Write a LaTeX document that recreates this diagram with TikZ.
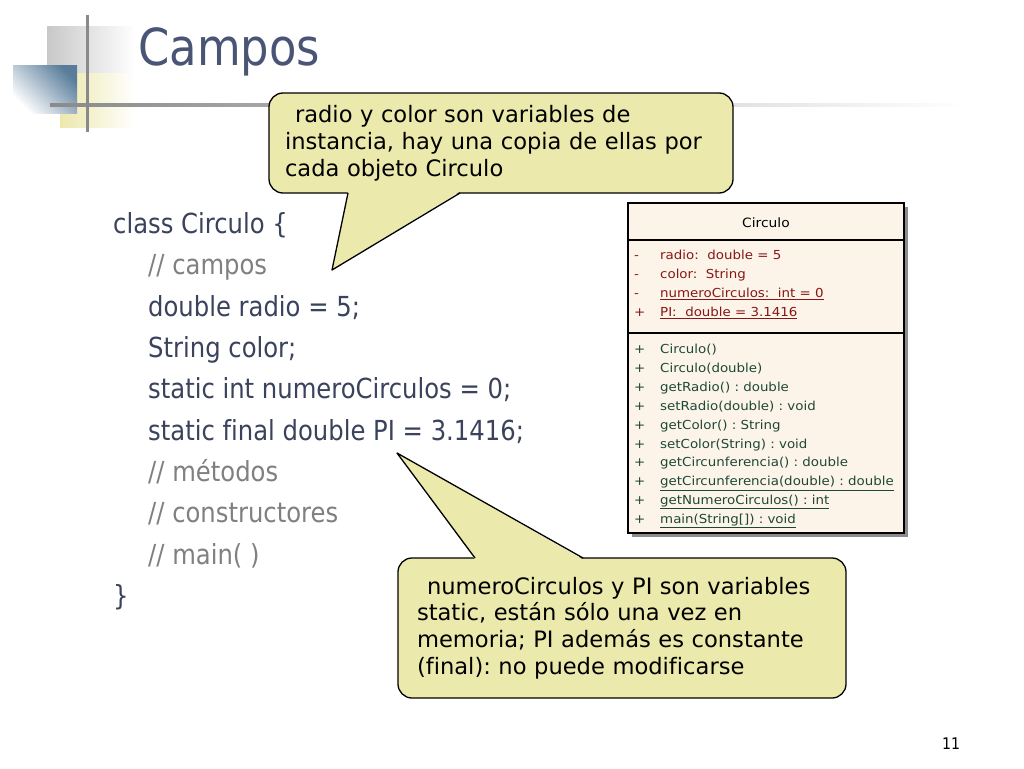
\documentclass[tikz,border=0pt]{standalone}
\usepackage{fontspec}
\setmainfont[Ligatures=CommonOff]{DejaVu Sans}
\newfontfamily\codefont[FakeStretch=0.88, Ligatures=CommonOff]{DejaVu Sans}
\newfontfamily\umlfont[FakeStretch=1.08]{DejaVu Sans}
\usepackage{tikz}
\usetikzlibrary{shadows}
\frenchspacing

\definecolor{titlecol}{RGB}{74,85,118}
\definecolor{codecol}{RGB}{58,66,92}
\definecolor{commentcol}{RGB}{128,128,128}
\definecolor{notefill}{RGB}{236,233,172}
\definecolor{umlfill}{RGB}{252,244,232}
\definecolor{attrcol}{RGB}{135,22,22}
\definecolor{opcol}{RGB}{30,72,54}
\definecolor{decogray}{RGB}{200,200,200}
\definecolor{decoblue}{RGB}{88,124,154}
\definecolor{decoyellow}{RGB}{236,232,172}
\definecolor{decoline}{RGB}{138,138,138}

\tikzset{
  code/.style={anchor=base west, inner sep=0, text=codecol,
    font=\codefont\fontsize{27.6}{27.6}\selectfont},
  comment/.style={code, text=commentcol},
  note/.style={draw, line width=1.3pt, fill=notefill, rounded corners=14pt,
    outer sep=0pt, align=left, font=\fontsize{22.6}{26.8}\selectfont},
  pointer/.style={line width=1.3pt, line join=round},
  umlbox/.style={draw, line width=1.2pt, fill=umlfill, outer sep=0pt,
    drop shadow={shadow xshift=4pt, shadow yshift=-4pt, fill=black!45, opacity=1}},
  attr/.style={anchor=base west, inner sep=0, text=attrcol,
    font=\umlfont\fontsize{12.4}{12.4}\selectfont},
  op/.style={attr, text=opcol},
}

\begin{document}
\begin{tikzpicture}[x=1pt, y=-1pt]
    \fill[white] (0,0) rectangle (1024,768);
    \useasboundingbox (0,0) rectangle (1024,768);

    % decoration
    \shade[left color=decogray, middle color=decogray!85, right color=white] (47,27) rectangle (135,73);
    \shade[left color=decoyellow, right color=white] (60,73) rectangle (135,127);
    \shade[top color=decoblue, bottom color=white, shading angle=-45] (13,65) rectangle (77,113);
    \shade[left color=decoline, middle color=decoline!55, right color=white] (50,103.5) rectangle (965,106.5);
    \draw[decoline, line width=3pt] (87,15) -- (87,132);

    \node[anchor=west, inner sep=0, text=titlecol, font=\codefont\fontsize{51}{51}\selectfont] (titulo) at (138,52) {Campos};

    % code
    \node[code] (linea1) at (113,233) {class Circulo \{};
    \node[comment] (linea2) at (148,274.5) {// campos};
    \node[code] (linea3) at (148,316) {double radio = 5;};
    \node[code] (linea4) at (148,357) {String color;};
    \node[code] (linea5) at (148,398.5) {static int numeroCirculos = 0;};
    \node[code] (linea6) at (148,440) {static final double PI = 3.1416;};
    \node[comment] (linea7) at (148,481) {// métodos};
    \node[comment] (linea8) at (148,522.5) {// constructores};
    \node[comment] (linea9) at (148,564) {// main( )};
    \node[code] (linea10) at (113,605) {\}};

    % class box
    \node[umlbox, minimum width=276pt, minimum height=330pt, anchor=north west] (clase) at (628,203) {};
    \draw[line width=1.2pt] ([yshift=-37pt]clase.north west) -- ([yshift=-37pt]clase.north east);
    \draw[line width=1.2pt] ([yshift=-130pt]clase.north west) -- ([yshift=-130pt]clase.north east);
    \node[font=\umlfont\fontsize{12.8}{12.8}\selectfont] (nombre) at (766,223) {Circulo};
    \foreach \vis/\txt [count=\i] in {-/{radio:\ \ double = 5}, -/{color:\ \ String},
        -/{\underline{numeroCirculos:\ \ int = 0}}, +/{\underline{PI:\ \ double = 3.1416}}} {
      \node[attr] (visA\i) at (634,240.5+19*\i) {\vis};
      \node[attr] (attr\i) at (660,240.5+19*\i) {\txt};
    }
    \foreach \txt [count=\i] in {{Circulo()}, {Circulo(double)}, {getRadio() : double},
        {setRadio(double) : void}, {getColor() : String}, {setColor(String) : void},
        {getCircunferencia() : double}, {\underline{getCircunferencia(double) : double}},
        {\underline{getNumeroCirculos() : int}}, {\underline{main(String[]) : void}}} {
      \node[op] (visB\i) at (634,334.6+18.9*\i) {+};
      \node[op] (op\i) at (660,334.6+18.9*\i) {\txt};
    }

    % callouts
    \node[note, text width=432pt, inner xsep=16pt, minimum height=100pt] (notaA) at (501,143)
      {\hspace*{10pt}radio y color son variables de\\instancia, hay una copia de ellas por\\cada objeto Circulo};
    \coordinate (puntaA) at (332,270);
    \fill[notefill] ([xshift=79pt,yshift=1.5pt]notaA.south west) -- (puntaA) -- ([xshift=191pt,yshift=1.5pt]notaA.south west) -- cycle;
    \draw[pointer] ([xshift=79pt]notaA.south west) -- (puntaA) -- ([xshift=191pt]notaA.south west);

    \node[note, text width=410pt, inner xsep=19pt, minimum height=140pt] (notaB) at (622,628)
      {\hspace*{10pt}numeroCirculos y PI son variables\\static, están sólo una vez en\\memoria; PI además es constante\\(final): no puede modificarse};
    \coordinate (puntaB) at (397,453);
    \fill[notefill] ([xshift=77pt,yshift=-1.5pt]notaB.north west) -- (puntaB) -- ([xshift=185pt,yshift=-1.5pt]notaB.north west) -- cycle;
    \draw[pointer] ([xshift=77pt]notaB.north west) -- (puntaB) -- ([xshift=185pt]notaB.north west);

    \node[font=\codefont\fontsize{16}{16}\selectfont] (pagina) at (951,744) {11};
\end{tikzpicture}
\end{document}
